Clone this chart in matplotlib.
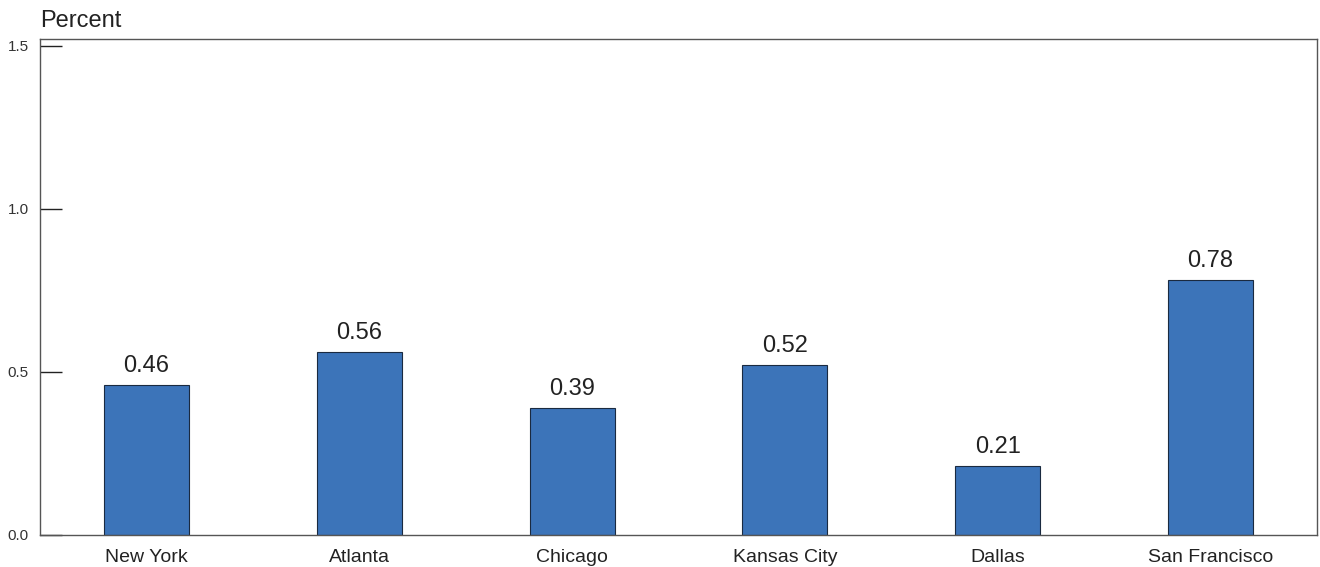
import matplotlib.pyplot as plt
import numpy as np

plt.rcParams['font.family'] = ['Liberation Sans', 'DejaVu Sans']

cities = ["New York", "Atlanta", "Chicago", "Kansas City", "Dallas", "San Francisco"]
values = [0.46, 0.56, 0.39, 0.52, 0.21, 0.78]
yticks = [0.0, 0.5, 1.0, 1.5]

fig = plt.figure(figsize=(13.2, 5.67), dpi=100)
ax = fig.add_axes([40 / 1320, 32 / 567, 1277 / 1320, 496 / 567])

x = np.arange(len(cities))
ax.bar(x, values, width=0.4, color="#3c74b9", edgecolor="#1a2a40", linewidth=0.8)
for xi, v in zip(x, values):
  ax.text(xi, v + 0.025, "%.2f" % v, ha="center", va="bottom", fontsize=17, color="#222222")

ax.set_xlim(-0.5, len(cities) - 0.5)
ax.set_ylim(0, 1.52)
ax.set_yticks(yticks)
ax.set_yticklabels(["%.1f" % t for t in yticks], fontsize=11, color="#333333")
ax.set_xticks(x)
ax.set_xticklabels(cities, fontsize=14, color="#222222")
ax.tick_params(axis="y", direction="in", length=16, width=1, color="#222222", pad=8)
ax.tick_params(axis="x", length=0, pad=10)
for s in ax.spines.values():
  s.set_color("#555555")
  s.set_linewidth(1)

fig.text(40 / 1320, 1 - 21 / 567, "Percent", fontsize=17, va="center", ha="left", color="#222222")

fig.savefig("out.png", dpi=100)
